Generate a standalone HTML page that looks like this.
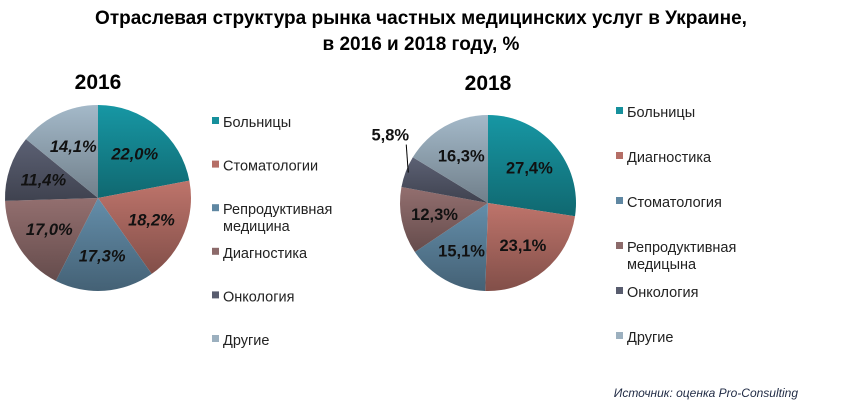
<!DOCTYPE html>
<html><head><meta charset="utf-8"><style>
body{margin:0;width:842px;height:403px;background:#fff;overflow:hidden;font-family:"Liberation Sans",sans-serif}
svg{position:absolute;left:0;top:0}
</style></head><body>
<svg width="842" height="403">
<defs id="defs"></defs>
<text x="421" y="24" text-anchor="middle" font-size="19" font-weight="bold" fill="#000">Отраслевая структура рынка частных медицинских услуг в Украине,</text>
<text x="421" y="50" text-anchor="middle" font-size="19" font-weight="bold" fill="#000">в 2016 и 2018 году, %</text>
<text x="98" y="89" text-anchor="middle" font-size="21" font-weight="bold">2016</text>
<text x="488" y="90" text-anchor="middle" font-size="21" font-weight="bold">2018</text>
<g id="g1"></g><g id="g2"></g>
<text x="798" y="397" text-anchor="end" font-size="12" font-style="italic" fill="#1f2a44">Источник: оценка Pro-Consulting</text>
</svg>
<script>
const cats2016=["Больницы","Стоматологии","Репродуктивная|медицина","Диагностика","Онкология","Другие"];
const vals2016=[22.0,18.2,17.3,17.0,11.4,14.1];
const cats2018=["Больницы","Диагностика","Стоматология","Репродуктивная|медицына","Онкология","Другие"];
const vals2018=[27.4,23.1,15.1,12.3,5.8,16.3];
const colors2016=["#16909c","#b56e66","#5f87a2","#8c6a6a","#585c6e","#9cb0bf"];
const colors2018=["#16909c","#b56e66","#5f87a2","#8c6a6a","#585c6e","#9cb0bf"];
const NS="http://www.w3.org/2000/svg";
const defs=document.getElementById('defs');
function shade(h,f){const n=parseInt(h.slice(1),16);let r=n>>16,g=(n>>8)&255,b=n&255;return `rgb(${Math.round(r*f)},${Math.round(g*f)},${Math.round(b*f)})`;}
function mk(t,a){const e=document.createElementNS(NS,t);for(const k in a)e.setAttribute(k,a[k]);return e;}
function pie(g,id,cx,cy,r,vals,cats,colors,lx,ly,lstep,italic){
  const tot=vals.reduce((a,b)=>a+b,0);let a0=0;
  vals.forEach((v,i)=>{
    const gid=id+'gr'+i;
    const lg=mk('linearGradient',{id:gid,x1:0,y1:0,x2:0,y2:1});
    lg.appendChild(mk('stop',{offset:'0',"stop-color":shade(colors[i],1.05)}));
    lg.appendChild(mk('stop',{offset:'1',"stop-color":shade(colors[i],0.72)}));
    defs.appendChild(lg);
    const a1=a0+v/tot*2*Math.PI;
    const x0=cx+r*Math.sin(a0),y0=cy-r*Math.cos(a0),x1=cx+r*Math.sin(a1),y1=cy-r*Math.cos(a1);
    const p=mk('path',{d:`M${cx},${cy}L${x0},${y0}A${r},${r} 0 ${a1-a0>Math.PI?1:0} 1 ${x1},${y1}Z`,fill:`url(#${gid})`});
    
    
    g.appendChild(p);
    const am=(a0+a1)/2;let rr=r*0.62,tx=cx+rr*Math.sin(am),ty=cy-rr*Math.cos(am);
    const lbl=v.toFixed(1).replace('.',',')+'%';
    let anchor='middle';
    if(v<8){
      const ex=cx+r*0.97*Math.sin(am),ey=cy-r*0.97*Math.cos(am);
      const ln=mk('path',{d:`M${ex},${ey}L${ex-2},${ey-28}`,stroke:'#000',fill:'none'});
      
      
      g.appendChild(ln);
      tx=ex-18;ty=ey-38;}
    const t=mk('text',{x:tx,y:ty+6,"text-anchor":anchor,"font-size":16.5,"font-weight":"bold",fill:"#111"});
    if(italic)t.setAttribute('font-style','italic');
    t.textContent=lbl;
    
    
    g.appendChild(t);
    a0=a1;
    const yy=ly+i*lstep;
    const sq=mk('rect',{x:lx,y:yy-5,width:7,height:7,fill:colors[i]});
    
    
    g.appendChild(sq);
    cats[i].split('|').forEach((s,k)=>{
      const lt=mk('text',{x:lx+11,y:yy+5+k*17,"font-size":14.5,fill:"#222"});
      lt.textContent=s;
      
      
      g.appendChild(lt);
    });
  });
}
pie(document.getElementById('g1'),'a',98,198,93,vals2016,cats2016,colors2016,212,122,43.6,true);
pie(document.getElementById('g2'),'b',488,203,88,vals2018,cats2018,colors2018,616,112,45,false);
</script>
</body></html>
